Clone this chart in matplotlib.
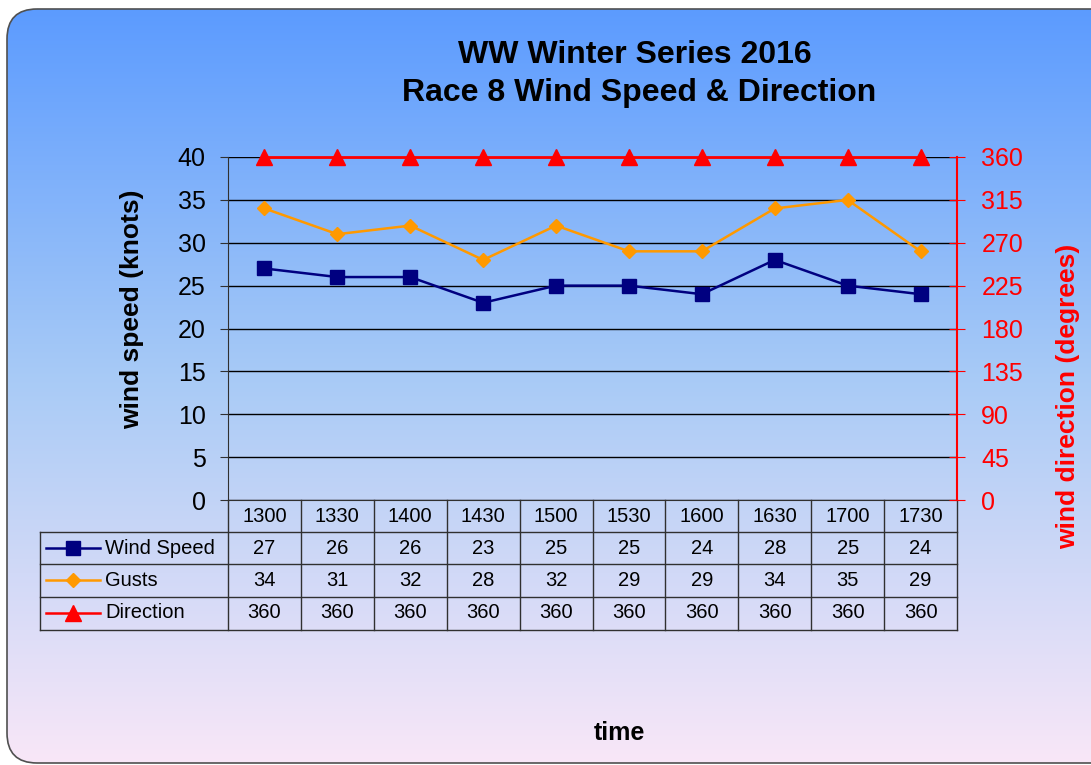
import numpy as np
import matplotlib
matplotlib.use("Agg")
import matplotlib.pyplot as plt
from matplotlib.patches import FancyBboxPatch
from matplotlib.lines import Line2D
from matplotlib.colors import LinearSegmentedColormap
import matplotlib.transforms as mtransforms

plt.rcParams['font.family'] = ['Liberation Sans', 'DejaVu Sans']

# data
times = ['1300', '1330', '1400', '1430', '1500', '1530', '1600', '1630', '1700', '1730']
wind_speed = [27, 26, 26, 23, 25, 25, 24, 28, 25, 24]
gusts = [34, 31, 32, 28, 32, 29, 29, 34, 35, 29]
direction = [360, 360, 360, 360, 360, 360, 360, 360, 360, 360]

W, H = 1091, 765
fig = plt.figure(figsize=(W / 100, H / 100), dpi=100)

def fy(py):
    return 1 - py / H

def fx(px):
    return px / W

# background gradient inside rounded frame
bg = fig.add_axes([0, 0, 1, 1], zorder=-10)
bg.set_xlim(0, W)
bg.set_ylim(H, 0)
bg.axis('off')
cmap = LinearSegmentedColormap.from_list('bg', ['#5a9aff', '#a9cbf6', '#f9e7f8'])
grad = np.linspace(0, 1, 256).reshape(-1, 1)
frame = FancyBboxPatch((7, 9), 1150, 754, boxstyle="round,pad=0,rounding_size=30",
                       facecolor='none', edgecolor='#505050', lw=1.2, zorder=2)
bg.add_patch(frame)
im = bg.imshow(grad, cmap=cmap, aspect='auto', extent=[0, W, H, 0], zorder=1)
im.set_clip_path(frame)

# main axes
left, right, top, bottom = 228, 957, 157, 500
ax = fig.add_axes([fx(left), fy(bottom), fx(right) - fx(left), fy(top) - fy(bottom)])
ax.patch.set_alpha(0)
x = np.arange(len(times))
ax.set_xlim(-0.5, len(times) - 0.5)
ax.set_ylim(0, 40)
ax.set_yticks(range(0, 41, 5))
ax.grid(axis='y', color='black', lw=1)
ax.set_axisbelow(True)
ax.set_xticks([])
for s in ['top', 'right']:
    ax.spines[s].set_visible(False)
ax.spines['left'].set_color('#303030')
ax.spines['bottom'].set_color('#303030')
ax.tick_params(axis='y', labelsize=18, length=6, pad=10, color='#303030')

ax.plot(x, wind_speed, color='#000080', lw=1.8, marker='s', ms=10, zorder=5)
ax.plot(x, gusts, color='#ff9900', lw=1.8, marker='D', ms=7.5, zorder=5)

ax2 = ax.twinx()
ax2.set_ylim(0, 360)
ax2.set_yticks(range(0, 361, 45))
for s in ['top', 'left', 'bottom']:
    ax2.spines[s].set_visible(False)
ax2.spines['right'].set_visible(True)
ax2.spines['right'].set_color('red')
ax2.spines['right'].set_linewidth(1.5)
ax2.spines['right'].set_zorder(6)
ax2.tick_params(axis='y', colors='red', labelsize=18, direction='inout', length=11, pad=12)
ax2.plot(x, direction, color='red', lw=2, marker='^', ms=11, zorder=5, clip_on=False)

# titles and labels
fig.text(fx(635), fy(55), 'WW Winter Series 2016', ha='center', va='center',
         fontsize=23, fontweight='bold')
fig.text(fx(639), fy(93), 'Race 8 Wind Speed & Direction', ha='center', va='center',
         fontsize=23, fontweight='bold')
fig.text(fx(132), fy(309), 'wind speed (knots)', rotation=90, ha='center', va='center',
         fontsize=19, fontweight='bold')
fig.text(fx(1068), fy(396), 'wind direction (degrees)', rotation=90, ha='center', va='center',
         fontsize=19, fontweight='bold', color='red')
fig.text(fx(619), fy(733), 'time', ha='center', va='center', fontsize=18, fontweight='bold')

# data table under the plot
tr = mtransforms.blended_transform_factory(ax.transData, fig.transFigure)
row_y = [516, 548, 580, 613]
hlines = [532, 564, 597, 630]
lc = '#303030'
for py in hlines:
    fig.add_artist(Line2D([fx(40), fx(right)], [fy(py), fy(py)], color=lc, lw=1))
fig.add_artist(Line2D([fx(40), fx(40)], [fy(532), fy(630)], color=lc, lw=1))
for b in np.arange(len(times) + 1) - 0.5:
    ax.add_artist(Line2D([b, b], [fy(bottom), fy(630)], color=lc, lw=1,
                         transform=tr, clip_on=False))

rows = [times, wind_speed, gusts, direction]
for vals, py in zip(rows, row_y):
    for xi, v in zip(x, vals):
        ax.text(xi, fy(py), str(v), transform=tr, ha='center', va='center', fontsize=14.5)

legend_rows = [('Wind Speed', '#000080', 's', 10), ('Gusts', '#ff9900', 'D', 7.5),
               ('Direction', 'red', '^', 11)]
for (name, col, mk, ms), py in zip(legend_rows, row_y[1:]):
    fig.add_artist(Line2D([fx(46), fx(100)], [fy(py), fy(py)], color=col, lw=1.8))
    fig.add_artist(Line2D([fx(73)], [fy(py)], color=col, marker=mk, ms=ms, lw=0))
    fig.text(fx(105), fy(py), name, ha='left', va='center', fontsize=14.5)

fig.savefig('out.png', dpi=100)
